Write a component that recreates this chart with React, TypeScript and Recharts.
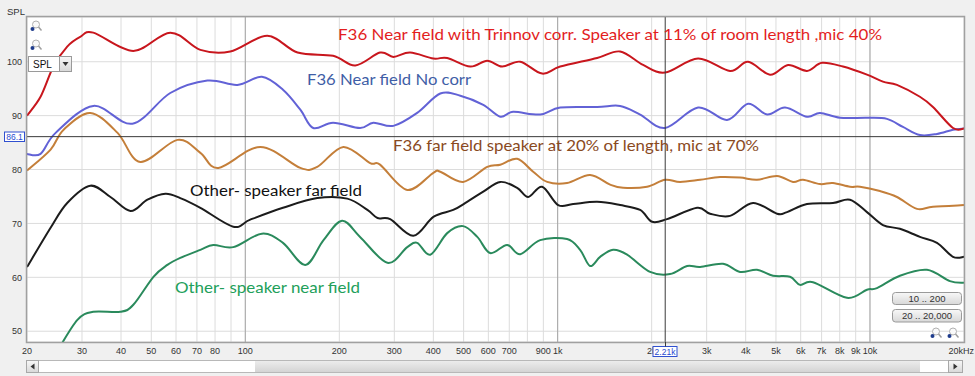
import React from "react";
import { LineChart, Line, XAxis, YAxis, CartesianGrid, ReferenceLine } from "recharts";

const W = 975;
const H = 376;

// frequency grid (Hz) and SPL grid (dB)
const FREQ_TICKS = [20, 30, 40, 50, 60, 70, 80, 90, 100, 200, 300, 400, 500, 600, 700, 800, 900,
  1000, 2000, 3000, 4000, 5000, 6000, 7000, 8000, 9000, 10000, 20000];
const FREQ_LABELS: Record<number, string> = {
  20: "20", 30: "30", 40: "40", 50: "50", 60: "60", 70: "70", 80: "80",
  100: "100", 200: "200", 300: "300", 400: "400", 500: "500", 600: "600", 700: "700", 900: "900",
  1000: "1k", 2000: "2k", 3000: "3k", 4000: "4k", 5000: "5k", 6000: "6k", 7000: "7k",
  8000: "8k", 9000: "9k", 10000: "10k", 20000: "20kHz",
};
const SPL_TICKS = [50, 60, 70, 80, 90, 100];
const DECADES = [100, 1000, 10000];
const CURSOR_FREQ = 2210;
const CURSOR_SPL = 86.1;

// F36 near field with Trinnov correction
const trinnovFreq = [20, 22.1, 24.3, 26.9, 29.6, 32.6, 43.8, 57.5, 71.8, 89.5, 117.6, 147, 191, 225, 270, 298,
  337, 400, 443, 525, 595, 664, 759, 892, 1019, 1338, 1585, 1878, 2208, 2816, 3565, 4070, 4786, 5466,
  6286, 7021, 8196, 9780, 11000, 12200, 14450, 15910, 18440, 20000];
const trinnovSpl = [90, 93.5, 99.1, 102.8, 104.6, 105.4, 102.0, 105.4, 102.2, 101.9, 104.8, 101.7, 101.1, 99.3,
  101.7, 100.9, 101.7, 100.6, 100.7, 99.1, 100.2, 99.1, 100, 97.8, 99.1, 100.7, 101.9, 99.4, 98.0, 100.6,
  98.3, 100, 97.6, 99.4, 98.3, 99.8, 99.1, 97.6, 96.3, 95.7, 93.5, 91.6, 87.7, 87.6];

// F36 near field, no correction
const noCorrFreq = [20, 22.1, 24.7, 32.6, 43.5, 57.5, 75.6, 94.3, 113, 132, 150, 165, 191, 233, 257, 298, 355,
  421, 488, 578, 655, 720, 879, 1019, 1338, 1585, 1837, 2208, 2816, 3486, 4070, 4682, 5346, 6286, 6918,
  8017, 9780, 11330, 12750, 14450, 16390, 18440, 20000];
const noCorrSpl = [82.9, 82.9, 86.8, 91.8, 88.5, 94.2, 96.5, 95.7, 97.2, 94.8, 91.1, 87.7, 88.7, 87.7, 88.7,
  88.1, 90.5, 94.1, 93.7, 92.0, 89.8, 90.7, 90.2, 91.5, 91.6, 91.8, 90.2, 87.7, 91.5, 89.2, 92.2, 90.2,
  91.5, 89.8, 90.5, 89.6, 89.6, 89.4, 87.9, 86.4, 86.6, 87.4, 87.6];

// F36 far field
const farFreq = [20, 23.8, 26.2, 31.9, 39, 46.1, 60.6, 71.8, 82, 111.7, 150, 170, 206, 251, 270, 330, 400, 421,
  498, 595, 655, 742, 835, 926, 1072, 1270, 1472, 1620, 1934, 2208, 2466, 2858, 3311, 3837, 4348, 5040,
  5670, 6104, 6918, 7610, 8630, 9290, 10760, 12200, 14140, 15910, 20000];
const farSpl = [79.8, 83.7, 87.4, 90.5, 86.8, 81.4, 85.5, 83.1, 80.3, 84.2, 80.3, 80.5, 84.2, 81.2, 80.9, 76.2,
  79.4, 79.6, 77.7, 80.5, 80.9, 82.0, 79.6, 77.7, 77.5, 79.0, 77.2, 76.6, 76.8, 78.1, 77.7, 78.1, 78.6,
  78.5, 78.1, 78.8, 77.7, 78.1, 77.3, 77.5, 76.8, 76.8, 76.0, 74.9, 72.7, 73.1, 73.4];

// Other speaker, far field
const otherFarFreq = [20, 23.8, 26.9, 31.9, 37, 42.9, 48.6, 55.5, 61.9, 71.8, 91.5, 103.7, 132, 170, 212, 246,
  265, 291, 345, 400, 463, 513, 578, 655, 742, 805, 892, 1004, 1121, 1338, 1585, 1837, 2007, 2241, 2795,
  3076, 3565, 4222, 5040, 5426, 6286, 7610, 8630, 9780, 11000, 12470, 14450, 16390, 18440, 20000];
const otherFarSpl = [61.9, 69.2, 73.8, 77.0, 74.9, 72.3, 74.4, 75.5, 74.7, 72.9, 69.4, 70.7, 72.9, 74.7, 74.6,
  72.5, 71.0, 70.8, 67.7, 71.2, 72.5, 74.0, 75.9, 77.7, 76.6, 74.9, 76.8, 73.4, 73.6, 74.0, 73.4, 72.5,
  70.3, 70.8, 72.9, 71.8, 71.4, 73.8, 71.8, 72.1, 73.6, 73.8, 74.4, 72.1, 69.7, 69.0, 67.5, 66.4, 63.8, 63.8];

// Other speaker, near field
const otherNearFreq = [25, 29, 32.6, 39.8, 43.8, 50.8, 56.3, 61.9, 71.8, 79, 91.5, 113, 132, 155.6, 178, 204,
  233, 285, 330, 355, 391, 443, 498, 553, 608, 689, 759, 879, 1072, 1180, 1270, 1368, 1505, 1669, 1977,
  2290, 2597, 2858, 3385, 3837, 4348, 4893, 5546, 5970, 6570, 8441, 9780, 10530, 12470, 15220, 18030, 20000];
const otherNearSpl = [46.3, 52.1, 53.6, 53.6, 54.9, 60.1, 62.3, 63.6, 65.1, 66.0, 65.6, 68.1, 66.4, 62.3, 66.9,
  70.5, 67.5, 62.7, 65.6, 66.4, 64.2, 68.2, 69.5, 67.5, 64.5, 66.0, 64.3, 66.9, 67.1, 65.1, 62.1, 63.8,
  65.1, 64.2, 61.0, 60.6, 62.1, 61.9, 62.5, 61.0, 61.4, 60.3, 60.1, 58.6, 59.1, 56.2, 57.7, 58.0, 60.3,
  61.4, 59.3, 59.0];

const toPts = (f: number[], v: number[]) => f.map((x, i) => ({ f: x, spl: v[i] }));

const SERIES = [
  { name: "otherNear", data: toPts(otherNearFreq, otherNearSpl), color: "#2a8a5c" },
  { name: "otherFar", data: toPts(otherFarFreq, otherFarSpl), color: "#1c1c1c" },
  { name: "far", data: toPts(farFreq, farSpl), color: "#c47f3a" },
  { name: "noCorr", data: toPts(noCorrFreq, noCorrSpl), color: "#6262d6" },
  { name: "trinnov", data: toPts(trinnovFreq, trinnovSpl), color: "#c8161d" },
];

const NOTES = [
  { text: "F36 Near field with Trinnov corr. Speaker at 11% of room length ,mic 40%", x: 338, y: 40, w: 544, color: "#e31e1e" },
  { text: "F36 Near field No corr", x: 307, y: 85, w: 164, color: "#3f5ea6" },
  { text: "F36 far field speaker at 20% of length, mic at 70%", x: 393, y: 151, w: 366, color: "#8a4a1e" },
  { text: "Other- speaker far field", x: 190, y: 196, w: 172, color: "#111111" },
  { text: "Other- speaker near field", x: 175, y: 293, w: 185, color: "#22a05a" },
];

const tickFont = { fontSize: 9, fill: "#333", fontFamily: "Liberation Sans, Arial, sans-serif" };

// smooth curve through every point (Catmull-Rom as cubic beziers), like REW's smoothed traces
function smoothCurve(context: any) {
  let pts: number[][] = [];
  return {
    areaStart() {},
    areaEnd() {},
    lineStart() { pts = []; },
    point(x: number, y: number) { pts.push([+x, +y]); },
    lineEnd() {
      if (!pts.length) return;
      context.moveTo(pts[0][0], pts[0][1]);
      for (let i = 0; i < pts.length - 1; i++) {
        const p0 = pts[i - 1] || pts[i];
        const p1 = pts[i];
        const p2 = pts[i + 1];
        const p3 = pts[i + 2] || p2;
        const t = 1 / 6;
        context.bezierCurveTo(
          p1[0] + (p2[0] - p0[0]) * t, p1[1] + (p2[1] - p0[1]) * t,
          p2[0] - (p3[0] - p1[0]) * t, p2[1] - (p3[1] - p1[1]) * t,
          p2[0], p2[1],
        );
      }
    },
  };
}

function FreqTick(props: any) {
  const { x, y, payload } = props;
  const label = FREQ_LABELS[payload.value];
  if (!label) return null;
  const last = payload.value === 20000;
  return (
    <text x={last ? 974 : x} y={y} dy="0.71em" textAnchor={last ? "end" : "middle"} style={tickFont}>
      {label}
    </text>
  );
}

function Magnifier({ x, y }: { x: number; y: number }) {
  return (
    <g transform={`translate(${x},${y})`}>
      <circle cx={7} cy={4.5} r={3.5} fill="#fafafa" stroke="#b0b0b0" />
      <line x1={9.5} y1={7} x2={12.5} y2={10.5} stroke="#a0a0a0" strokeWidth={1.5} />
      <circle cx={3.5} cy={9} r={2} fill="#1f3c8c" />
    </g>
  );
}

function Button({ x, y, w, h, label }: { x: number; y: number; w: number; h: number; label: string }) {
  return (
    <g>
      <rect x={x} y={y} width={w} height={h} rx={3} fill="url(#btnGrad)" stroke="#9a9a9a" />
      <text x={x + w / 2} y={y + h / 2 + 3.2} textAnchor="middle" style={{ ...tickFont, fontSize: 9.5 }}>{label}</text>
    </g>
  );
}

export default function App() {
  return (
    <div style={{ position: "fixed", left: 0, top: 0, width: W, height: H, background: "#f0f0f0", overflow: "hidden" }}>
      <LineChart width={W} height={H} margin={{ top: 17, right: 11, bottom: 14, left: 0 }}>
        <CartesianGrid stroke="#dcdcdc" fill="#ffffff" />
        <XAxis
          dataKey="f"
          type="number"
          scale="log"
          domain={[20, 20000]}
          ticks={FREQ_TICKS}
          interval={0}
          allowDataOverflow
          height={20}
          tickSize={0}
          tickMargin={6}
          axisLine={false}
          tick={<FreqTick />}
        />
        <YAxis
          type="number"
          domain={[48, 108.3]}
          ticks={SPL_TICKS}
          allowDataOverflow
          width={27}
          tickSize={0}
          tickMargin={5}
          axisLine={false}
          tick={tickFont}
        />
        {DECADES.map((d) => (
          <ReferenceLine key={d} x={d} stroke="#a6a6a6" />
        ))}
        {SERIES.map((s) => (
          <Line
            key={s.name}
            data={s.data}
            dataKey="spl"
            type={smoothCurve as any}
            stroke={s.color}
            strokeWidth={2}
            dot={false}
            isAnimationActive={false}
          />
        ))}
        <ReferenceLine x={CURSOR_FREQ} stroke="#3a3a3a" />
        <ReferenceLine y={CURSOR_SPL} stroke="#3a3a3a" />
      </LineChart>

      <svg width={W} height={H} style={{ position: "absolute", left: 0, top: 0, pointerEvents: "none" }}>
        <defs>
          <linearGradient id="btnGrad" x1="0" y1="0" x2="0" y2="1">
            <stop offset="0%" stopColor="#f8f8f8" />
            <stop offset="100%" stopColor="#d8d8d8" />
          </linearGradient>
          <linearGradient id="thumbGrad" x1="0" y1="0" x2="0" y2="1">
            <stop offset="0%" stopColor="#ececec" />
            <stop offset="100%" stopColor="#d4d4d4" />
          </linearGradient>
        </defs>

        {/* plot frame */}
        <rect x={26.5} y={16.5} width={938} height={326} fill="none" stroke="#a0a0a0" strokeWidth={1.5} />

        <text x={7} y={15} style={{ ...tickFont, fontSize: 9.5 }}>SPL</text>

        {NOTES.map((n) => (
          <text
            key={n.text}
            x={n.x}
            y={n.y}
            textLength={n.w}
            lengthAdjust="spacingAndGlyphs"
            style={{ fontFamily: "Lato, 'Open Sans', sans-serif", fontSize: 16, fill: n.color }}
          >
            {n.text}
          </text>
        ))}

        {/* top-left zoom icons and SPL selector */}
        <Magnifier x={29} y={20} />
        <Magnifier x={29} y={39} />
        <rect x={28.5} y={56.5} width={43} height={15} fill="#fff" stroke="#9a9a9a" />
        <rect x={59.5} y={56.5} width={12} height={15} fill="url(#btnGrad)" stroke="#9a9a9a" />
        <path d="M62.5 62 L68.5 62 L65.5 66 Z" fill="#333" />
        <text x={33} y={67.5} style={{ ...tickFont, fontSize: 10, fill: "#111" }}>SPL</text>

        {/* cursor readouts */}
        <rect x={4.5} y={132} width={20} height={9.5} fill="#fff" stroke="#3050d0" />
        <text x={14.5} y={140} textAnchor="middle" style={{ ...tickFont, fontSize: 8.5, fill: "#2a4ad0" }}>86.1</text>
        <rect x={653} y={346.5} width={24} height={10} fill="#fff" stroke="#3050d0" />
        <text x={665} y={354.5} textAnchor="middle" style={{ ...tickFont, fontSize: 8.5, fill: "#2a4ad0" }}>2.21k</text>
        <line x1={665.5} y1={342} x2={665.5} y2={346.5} stroke="#3a3a3a" />

        {/* range buttons and bottom zoom icons */}
        <Button x={892.5} y={292.5} w={69} h={12} label="10 .. 200" />
        <Button x={892.5} y={309.5} w={69} h={12.5} label="20 .. 20,000" />
        <Magnifier x={929} y={327} />
        <Magnifier x={946} y={327} />

        {/* scrollbar */}
        <rect x={26.5} y={360.5} width={936} height={12} fill="#fff" stroke="#b8b8b8" />
        <rect x={26.5} y={360.5} width={12} height={12} fill="url(#btnGrad)" stroke="#a8a8a8" />
        <path d="M34.5 363.5 L30.5 366.5 L34.5 369.5 Z" fill="#333" />
        <rect x={255} y={361} width={665} height={11} fill="url(#thumbGrad)" />
        <rect x={948.5} y={360.5} width={14} height={12} fill="url(#btnGrad)" stroke="#a8a8a8" />
        <path d="M953.5 363.5 L957.5 366.5 L953.5 369.5 Z" fill="#333" />
      </svg>
    </div>
  );
}
